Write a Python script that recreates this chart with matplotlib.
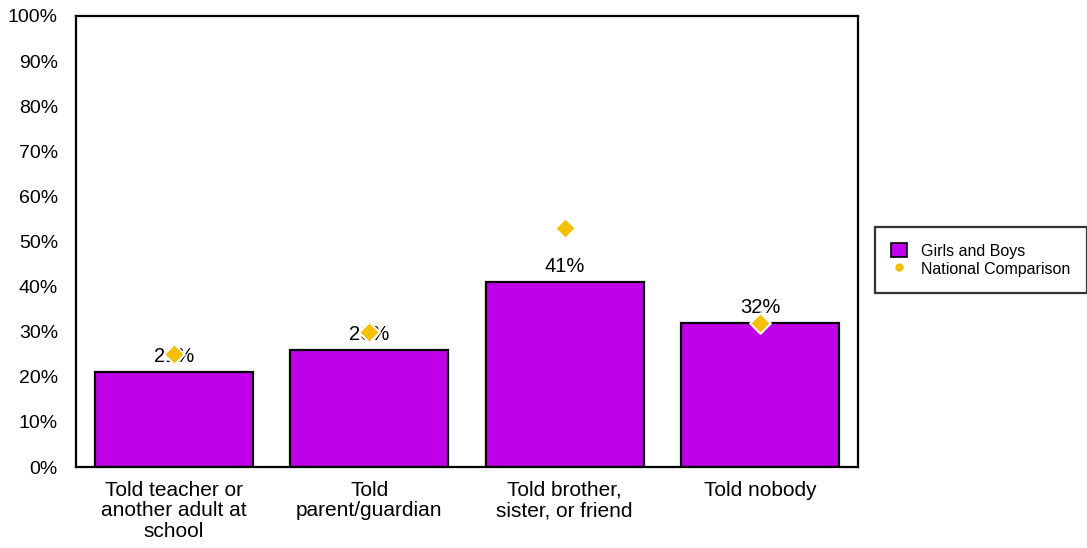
import matplotlib.pyplot as plt
import numpy as np
from matplotlib.lines import Line2D
from matplotlib.patches import Patch

plt.rcParams['font.family'] = ['Liberation Sans', 'DejaVu Sans']

# who the students told
categories = ['Told teacher or\nanother adult at\nschool',
              'Told\nparent/guardian',
              'Told brother,\nsister, or friend',
              'Told nobody']
girls_boys = [21, 26, 41, 32]
national = [25, 30, 53, 32]

bar_col = '#BF00E8'
nat_col = '#F5C000'

fig = plt.figure(figsize=(10.87, 5.48), dpi=100)
ax = fig.add_axes([76/1087, 81/548, 782/1087, 451/548])

x = np.arange(len(categories))
ax.bar(x, girls_boys, width=0.81, color=bar_col, edgecolor='black',
       linewidth=1.6, label='Girls and Boys')
for xi, v in zip(x, girls_boys):
    ax.text(xi, v + 1.3, f'{v}%', ha='center', va='bottom', fontsize=14.5)

ax.scatter(x, national, marker='D', s=110, color=nat_col, edgecolor='white',
           linewidth=1.5, zorder=3, label='National Comparison')

ax.set_xlim(-0.5, 3.5)
ax.set_ylim(0, 100)
ax.set_yticks(range(0, 101, 10))
ax.set_yticklabels([f'{t}%' for t in range(0, 101, 10)], fontsize=14)
ax.set_xticks(x)
ax.set_xticklabels(categories, fontsize=15, linespacing=1.1)
ax.tick_params(axis='y', length=0, pad=13)
ax.tick_params(axis='x', length=0, pad=10)
for s in ax.spines.values():
    s.set_linewidth(1.6)

handles = [Patch(facecolor=bar_col, edgecolor='black', linewidth=1.2,
                 label='Girls and Boys'),
           Line2D([], [], marker='o', linestyle='none', markersize=5,
                  color=nat_col, label='National Comparison')]
leg = fig.legend(handles=handles, loc='upper left',
                 bbox_to_anchor=(875/1087, 1 - 227/548), fontsize=11.5,
                 frameon=True, fancybox=False, edgecolor='black',
                 handlelength=1.0, handleheight=1.0, borderpad=1.0,
                 labelspacing=0.15, handletextpad=0.9, borderaxespad=0)
leg.get_frame().set_linewidth(1.6)

fig.savefig('out.png', dpi=100)
